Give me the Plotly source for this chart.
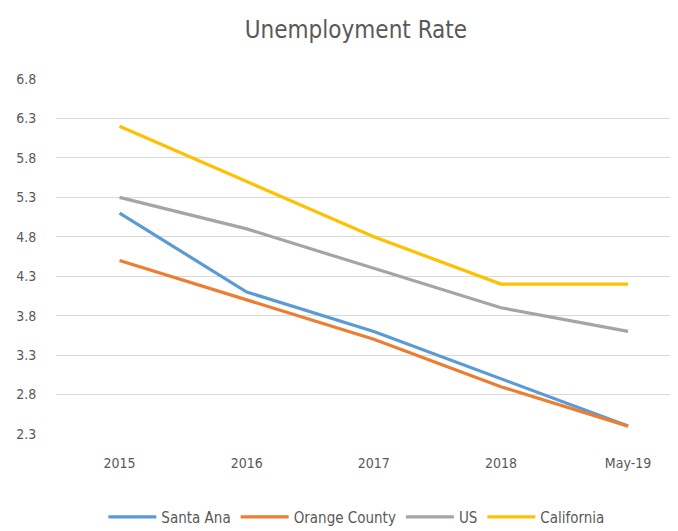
import plotly.graph_objects as go

# Unemployment rate (%) by period
periods = ["2015", "2016", "2017", "2018", "May-19"]
santa_ana = [5.1, 4.1, 3.6, 3.0, 2.4]
orange_county = [4.5, 4.0, 3.5, 2.9, 2.4]
us = [5.3, 4.9, 4.4, 3.9, 3.6]
california = [6.2, 5.5, 4.8, 4.2, 4.2]

y_ticks = [2.3, 2.8, 3.3, 3.8, 4.3, 4.8, 5.3, 5.8, 6.3, 6.8]

series = [
    ("Santa Ana", santa_ana, "#5B9BD5"),
    ("Orange County", orange_county, "#ED7D31"),
    ("US", us, "#A5A5A5"),
    ("California", california, "#FFC000"),
]

FONT = "Liberation Sans Narrow, Arial Narrow, DejaVu Sans Condensed, sans-serif"
TEXT = "#595959"

fig = go.Figure()
for name, vals, color in series:
    fig.add_trace(go.Scatter(
        x=periods, y=vals, name=name, mode="lines",
        line=dict(color=color, width=3.2),
    ))

fig.update_layout(
    width=678, height=531,
    margin=dict(l=56, r=8, t=79, b=97, autoexpand=False),
    paper_bgcolor="white", plot_bgcolor="white",
    title=dict(text="Unemployment Rate", x=0.525, xanchor="center",
               y=0.945, yanchor="middle",
               font=dict(family=FONT, size=24, color=TEXT)),
    font=dict(family=FONT, size=14, color=TEXT),
    showlegend=True,
    legend=dict(orientation="h", x=0.49, xanchor="center",
                yref="container", y=0.026, yanchor="middle",
                font=dict(family=FONT, size=15, color=TEXT),
                itemwidth=48, traceorder="normal"),
    xaxis=dict(type="category", range=[-0.5, 4.33], showgrid=False,
               zeroline=False, showline=False, ticks="outside",
               ticklen=16, tickcolor="rgba(0,0,0,0)",
               tickfont=dict(family=FONT, size=14, color=TEXT)),
    yaxis=dict(range=[2.3, 6.8], tickvals=y_ticks,
               ticktext=[f"{v:.1f}" for v in y_ticks],
               showgrid=True, gridcolor="#D9D9D9", gridwidth=1,
               zeroline=False, showline=False, ticks="outside",
               ticklen=16, tickcolor="rgba(0,0,0,0)",
               tickfont=dict(family=FONT, size=14, color=TEXT)),
)

fig.write_html("out.html")
